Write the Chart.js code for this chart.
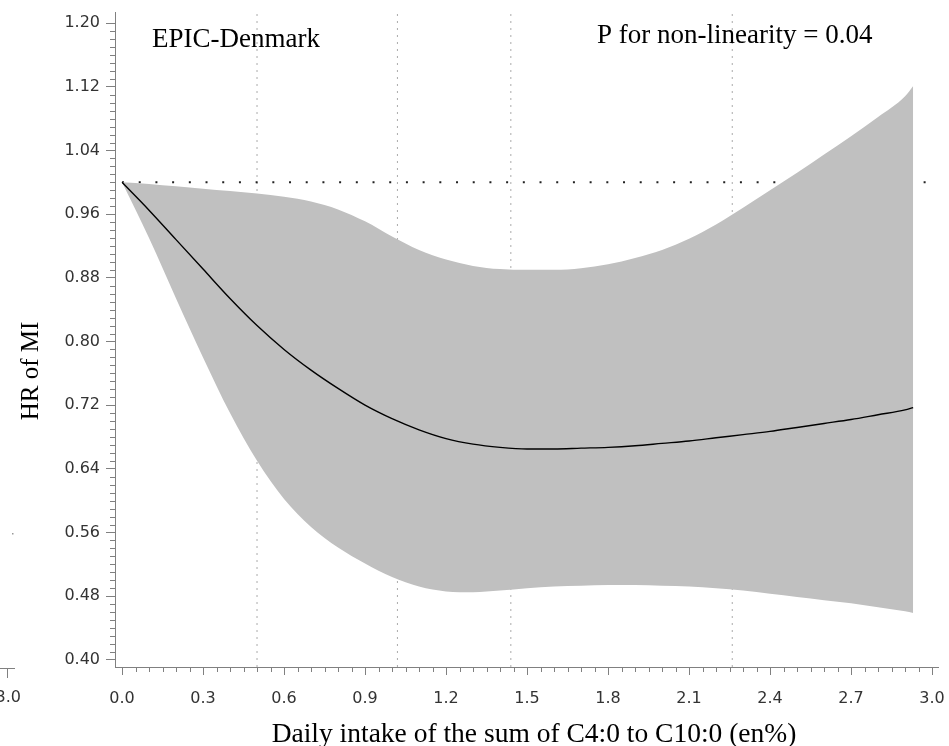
<!DOCTYPE html>
<html>
<head>
<meta charset="utf-8">
<script src="https://cdn.jsdelivr.net/npm/chart.js@4.4.1/dist/chart.umd.min.js"></script>
<style>
	body { margin: 0; background: #fff; }
	#hr-chartcanvas { display: block; }
</style>
</head>
<body>
<canvas id="hr-chartcanvas" width="949" height="746"></canvas>
<script>
"use strict";

// spline
var intake = [0, 0.1, 0.2, 0.3, 0.4, 0.5, 0.6, 0.7, 0.8, 0.9, 1.0, 1.1, 1.2, 1.3, 1.4, 1.5,
	1.6, 1.7, 1.8, 1.9, 2.0, 2.1, 2.2, 2.3, 2.4, 2.5, 2.6, 2.7, 2.8, 2.9, 2.93];
var hr = [1.000, 0.965, 0.928, 0.891, 0.854, 0.820, 0.790, 0.764, 0.741, 0.720, 0.703,
	0.689, 0.678, 0.671, 0.667, 0.665, 0.665, 0.666, 0.667, 0.669, 0.672, 0.675, 0.679,
	0.683, 0.687, 0.692, 0.697, 0.702, 0.708, 0.714, 0.717];
var upperCI = [1.000, 0.998, 0.995, 0.992, 0.989, 0.986, 0.982, 0.976, 0.966, 0.951, 0.932,
	0.915, 0.903, 0.895, 0.891, 0.890, 0.890, 0.892, 0.897, 0.905, 0.915, 0.929, 0.947,
	0.968, 0.990, 1.012, 1.035, 1.058, 1.082, 1.108, 1.121];
var lowerCI = [1.000, 0.930, 0.854, 0.780, 0.710, 0.650, 0.602, 0.567, 0.541, 0.521, 0.504,
	0.492, 0.486, 0.485, 0.487, 0.490, 0.492, 0.493, 0.494, 0.494, 0.493, 0.492, 0.490,
	0.487, 0.483, 0.479, 0.475, 0.471, 0.466, 0.461, 0.459];

// knots (dotted verticals) and reference HR
var knots = [0.5, 1.02, 1.44, 2.26];
var refHR = 1.0;

// tick labels
var xTicks = [0.0, 0.3, 0.6, 0.9, 1.2, 1.5, 1.8, 2.1, 2.4, 2.7, 3.0];
var yTicks = [0.40, 0.48, 0.56, 0.64, 0.72, 0.80, 0.88, 0.96, 1.04, 1.12, 1.20];

// texts
var panelName = "EPIC-Denmark";
var pText = "P for non-linearity = 0.04";
var xTitle = "Daily intake of the sum of C4:0 to C10:0 (en%)";
var yTitle = "HR of MI";

// axis ranges
var xMin = -0.026, xMax = 3.022;
var yMin = 0.391, yMax = 1.214;

var axisGrey = "#808080";
var serif = "'Liberation Serif', 'Times New Roman', serif";

// build points
function pts(ys) {
	return intake.map(function(x, i) { return { x: x, y: ys[i] }; });
}

var datasets = [
	{ label: "HR", data: pts(hr), borderColor: "#000", borderWidth: 1.4, fill: false, cubicInterpolationMode: "monotone", pointRadius: 0, order: 0 },
	{ label: "upper", data: pts(upperCI), borderWidth: 0, borderColor: "rgba(0,0,0,0)", backgroundColor: "#c0c0c0", fill: "+1", cubicInterpolationMode: "monotone", pointRadius: 0, order: 1 },
	{ label: "lower", data: pts(lowerCI), borderWidth: 0, borderColor: "rgba(0,0,0,0)", fill: false, cubicInterpolationMode: "monotone", pointRadius: 0, order: 1 },
	{ label: "ref", data: [{ x: 0, y: refHR }, { x: xMax, y: refHR }], borderColor: "#222", borderWidth: 2, borderDash: [2, 14.7], fill: false, pointRadius: 0, order: 2 }
];
knots.forEach(function(k) {
	datasets.push({ label: "knot", data: [{ x: k, y: yMin }, { x: k, y: yMax }], borderColor: "#aaa", borderWidth: 1, borderDash: [2, 5], fill: false, pointRadius: 0, order: 3 });
});

// minor ticks + texts
var extras = {
	id: "extras",
	afterDraw: function(chart) {
		var ctx = chart.ctx;
		var xs = chart.scales.x, ys = chart.scales.y;
		var i, p;
		ctx.save();
		ctx.strokeStyle = axisGrey;
		ctx.lineWidth = 1;
		ctx.beginPath();
		for (i = 0; i <= 60; i++) {
			if (i % 6 === 0) continue;
			p = Math.round(xs.getPixelForValue(i * 0.05)) + 0.5;
			ctx.moveTo(p, xs.top);
			ctx.lineTo(p, xs.top + 5);
		}
		for (i = 40; i <= 120; i++) {
			if (i % 8 === 0) continue;
			p = Math.round(ys.getPixelForValue(i / 100)) + 0.5;
			ctx.moveTo(ys.right - 5, p);
			ctx.lineTo(ys.right, p);
		}
		// leftover bit of the neighbouring panel
		ctx.moveTo(0, 668.5); ctx.lineTo(15, 668.5);
		ctx.moveTo(7.5, 668); ctx.lineTo(7.5, 678);
		ctx.stroke();
		ctx.fillStyle = "#999";
		ctx.fillRect(12, 533, 1.5, 1.5);
		ctx.fillStyle = "#333";
		ctx.font = "16px 'DejaVu Sans'";
		ctx.textAlign = "right";
		ctx.textBaseline = "middle";
		ctx.fillText("3.0", 21, 698);

		ctx.fillStyle = "#000";
		ctx.font = "27px " + serif;
		ctx.textAlign = "left";
		ctx.textBaseline = "alphabetic";
		ctx.fillText(panelName, 152, 47);
		ctx.fillText(pText, 597, 43);
		ctx.textAlign = "center";
		ctx.font = "27.5px " + serif;
		ctx.fillText(xTitle, 534, 742);
		ctx.font = "25px " + serif;
		ctx.translate(31, 371);
		ctx.rotate(-Math.PI / 2);
		ctx.textBaseline = "middle";
		ctx.fillText(yTitle, 0, 0);
		ctx.restore();
	}
};

// get canvas
var hrCtx = document.getElementById("hr-chartcanvas");

// create chart
var hrChart = new Chart(hrCtx, {
	type: "line",
	data: { datasets: datasets },
	options: {
		responsive: false,
		animation: false,
		layout: { padding: { left: 0, right: 11, top: 12, bottom: 0 } },
		plugins: { legend: { display: false }, tooltip: { enabled: false } },
		scales: {
			x: {
				type: "linear",
				min: xMin,
				max: xMax,
				afterBuildTicks: function(scale) {
					scale.ticks = xTicks.map(function(v) { return { value: v }; });
				},
				afterFit: function(scale) {
					scale.height = 79;
					scale.paddingLeft = 0;
					scale.paddingRight = 0;
				},
				border: { display: true, color: axisGrey },
				grid: { drawOnChartArea: false, drawTicks: true, tickLength: 8, tickColor: axisGrey },
				ticks: {
					autoSkip: false,
					maxRotation: 0,
					padding: 14,
					color: "#333",
					font: { family: "'DejaVu Sans'", size: 16 },
					callback: function(v) { return Number(v).toFixed(1); }
				}
			},
			y: {
				type: "linear",
				min: yMin,
				max: yMax,
				afterBuildTicks: function(scale) {
					scale.ticks = yTicks.map(function(v) { return { value: v }; });
				},
				afterFit: function(scale) {
					scale.width = 115;
					scale.paddingTop = 0;
					scale.paddingBottom = 0;
				},
				border: { display: true, color: axisGrey },
				grid: { drawOnChartArea: false, drawTicks: true, tickLength: 9, tickColor: axisGrey },
				ticks: {
					autoSkip: false,
					padding: 6,
					color: "#333",
					font: { family: "'DejaVu Sans'", size: 16 },
					callback: function(v) { return Number(v).toFixed(2); }
				}
			}
		}
	},
	plugins: [extras]
});
</script>
</body>
</html>
